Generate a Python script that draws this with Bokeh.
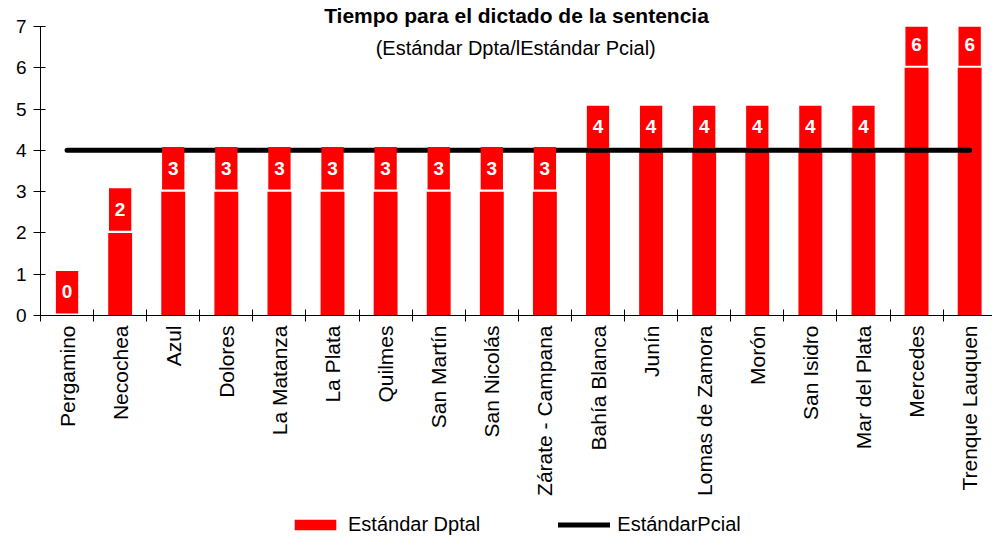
import math
from bokeh.plotting import figure
from bokeh.layouts import column
from bokeh.models import (Range1d, FixedTicker, Legend, LegendItem, Label, ColumnDataSource)
from bokeh.core.properties import value
from bokeh.embed import file_html
from bokeh.resources import INLINE

categories = ["Pergamino", "Necochea", "Azul", "Dolores", "La Matanza", "La Plata",
              "Quilmes", "San Martín", "San Nicolás", "Zárate - Campana", "Bahía Blanca",
              "Junín", "Lomas de Zamora", "Morón", "San Isidro", "Mar del Plata",
              "Mercedes", "Trenque Lauquen"]
dptal = [0, 2, 3, 3, 3, 3, 3, 3, 3, 3, 4, 4, 4, 4, 4, 4, 6, 6]
pcial = [4] * len(categories)
y_ticks = [0, 1, 2, 3, 4, 5, 6, 7]

title_text = "Tiempo para el dictado de la sentencia"
subtitle_text = "(Estándar Dpta/lEstándar Pcial)"
legend_labels = ["Estándar Dptal", "EstándarPcial"]

FONT = "Liberation Sans"
RED = "#FF0000"
n = len(categories)
xs = list(range(n))

H_MAIN = 500
p = figure(width=992, height=H_MAIN, output_backend="svg", toolbar_location=None,
           x_range=Range1d(-0.5, 17.43), y_range=Range1d(0, 7),
           min_border_left=40, min_border_right=0, min_border_top=26,
           min_border_bottom=H_MAIN - 315)
p.outline_line_color = None
p.xgrid.visible = False
p.ygrid.visible = False

p.title.text = title_text
p.title.align = "center"
p.title.text_font = FONT
p.title.text_font_style = "bold"
p.title.text_font_size = "21px"
p.title.text_color = "black"
p.title.standoff = 0

src = ColumnDataSource(dict(x=xs, v=dptal, s=pcial,
                            lb=[v + 0.05 for v in dptal],
                            lt=[v + 1.08 for v in dptal],
                            ly=[v + 0.57 for v in dptal],
                            txt=[str(v) for v in dptal]))

p.vbar(x="x", top="v", bottom=0, width=0.45, source=src, fill_color=RED, line_color=None)
p.line(x="x", y="s", source=src, line_color="black", line_width=5, line_cap="round")
p.vbar(x="x", top="lt", bottom="lb", width=0.42, source=src, fill_color=RED, line_color=None)
p.text(x="x", y="ly", text="txt", source=src, text_color="white",
       text_font=value(FONT), text_font_style="bold", text_font_size="19px",
       text_align="center", text_baseline="middle")

p.add_layout(Label(x=8.45, y=6.47, text=subtitle_text, text_align="center",
                   text_baseline="middle", text_font=FONT,
                   text_font_size="20px", text_color="black"))

# y axis
ya = p.yaxis[0]
ya.ticker = FixedTicker(ticks=y_ticks)
ya.major_tick_in = 5
ya.major_tick_out = 7
ya.minor_tick_line_color = None
ya.axis_line_color = "black"
ya.major_tick_line_color = "black"
ya.major_label_text_font = FONT
ya.major_label_text_font_size = "19px"
ya.major_label_text_color = "black"
ya.major_label_standoff = 7

# x axis
xa = p.xaxis[0]
xa.ticker = FixedTicker(ticks=xs, minor_ticks=[i - 0.5 for i in range(n + 1)])
xa.major_label_overrides = {i: c for i, c in enumerate(categories)}
xa.major_tick_line_color = None
xa.minor_tick_line_color = "black"
xa.minor_tick_in = 6
xa.minor_tick_out = 6
xa.axis_line_color = "black"
xa.major_label_orientation = math.pi / 2
xa.major_label_text_font = FONT
xa.major_label_text_font_size = "21px"
xa.major_label_text_color = "black"
xa.major_label_standoff = 4

# legend strip
p2 = figure(width=992, height=536 - H_MAIN, output_backend="svg", toolbar_location=None,
            x_range=Range1d(0, 1), y_range=Range1d(0, 1),
            x_axis_location=None, y_axis_location=None,
            min_border_left=0, min_border_right=0, min_border_top=0, min_border_bottom=0)
p2.outline_line_color = None
p2.xgrid.visible = False
p2.ygrid.visible = False
lb = p2.vbar(x=[10], top=[10], bottom=[9], width=0.5, fill_color=RED, line_color=None)
ll = p2.line(x=[10, 11], y=[10, 10], line_color="black", line_width=5, line_cap="round")
legend = Legend(items=[LegendItem(label=legend_labels[0], renderers=[lb]),
                       LegendItem(label=legend_labels[1], renderers=[ll])],
                orientation="horizontal", location=(249, 0),
                glyph_width=52, glyph_height=13, label_standoff=7, spacing=78,
                padding=0, margin=0, border_line_color=None, background_fill_alpha=0,
                label_text_font=FONT, label_text_font_size="20px", label_text_color="black")
p2.add_layout(legend, "center")

open("out.html", "w").write(file_html(column(p, p2, spacing=0), INLINE))
